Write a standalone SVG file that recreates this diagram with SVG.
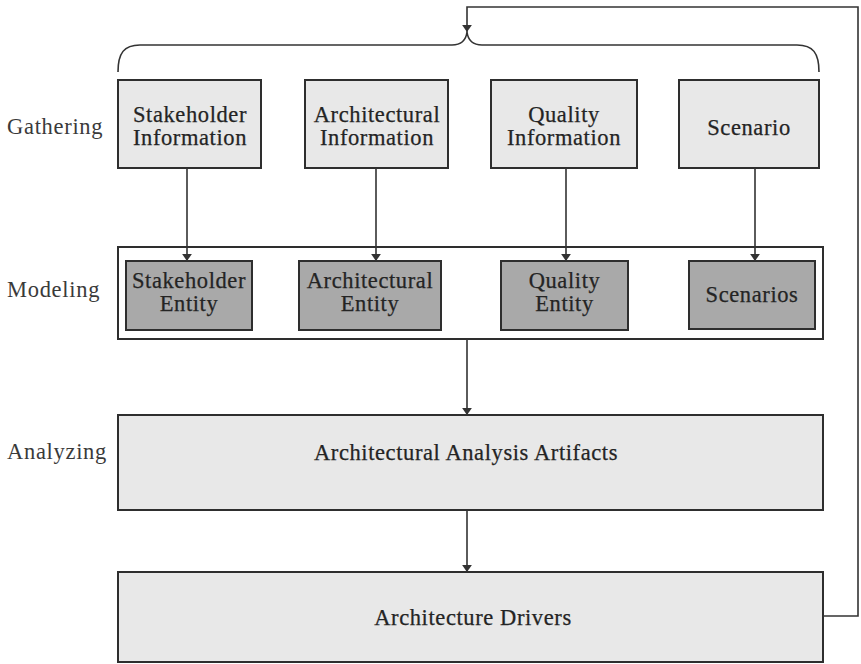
<svg xmlns="http://www.w3.org/2000/svg" width="861" height="664" viewBox="0 0 861 664">
  <style>
    .lbl { font-family: "Liberation Serif", "Times New Roman", serif; font-size: 22.5px; letter-spacing: 0.7px; fill: #3a3a3a; }
    .txt { font-family: "Liberation Serif", "Times New Roman", serif; font-size: 22.5px; letter-spacing: 0.6px; fill: #242424; text-anchor: middle; stroke: #242424; stroke-width: 0.25; }
    .light { fill: #e8e8e8; stroke: #2e2e2e; stroke-width: 2; }
    .dark { fill: #a9a9a9; stroke: #2e2e2e; stroke-width: 2; }
    .frame { fill: #fff; stroke: #2e2e2e; stroke-width: 2; }
    .wire { fill: none; stroke: #333; stroke-width: 1.6; }
  </style>
  <defs>
    <marker id="arrow" viewBox="0 0 10 14" refX="10" refY="7" markerWidth="7" markerHeight="12" markerUnits="userSpaceOnUse" orient="auto">
      <path d="M0,0 L10,7 L0,14 Z" fill="#333"/>
    </marker>
  </defs>
  <rect width="861" height="664" fill="#fff"/>

  <!-- stage labels -->
  <g id="stage-labels">
    <text class="lbl" x="7" y="134">Gathering</text>
    <text class="lbl" x="7" y="297">Modeling</text>
    <text class="lbl" x="7" y="459">Analyzing</text>
  </g>

  <!-- gathering stage -->
  <g id="stakeholder-information">
    <rect class="light" x="118" y="80" width="143" height="88"/>
    <text class="txt" x="190" y="122">Stakeholder</text>
    <text class="txt" x="190" y="145">Information</text>
  </g>
  <g id="architectural-information">
    <rect class="light" x="305" y="80" width="143" height="88"/>
    <text class="txt" x="377" y="122">Architectural</text>
    <text class="txt" x="377" y="145">Information</text>
  </g>
  <g id="quality-information">
    <rect class="light" x="491" y="80" width="146" height="88"/>
    <text class="txt" x="564" y="122">Quality</text>
    <text class="txt" x="564" y="145">Information</text>
  </g>
  <g id="scenario">
    <rect class="light" x="679" y="80" width="140" height="88"/>
    <text class="txt" x="749" y="135">Scenario</text>
  </g>

  <!-- modeling stage -->
  <g id="modeling">
    <rect class="frame" x="118" y="247" width="705" height="92"/>
  </g>
  <g id="stakeholder-entity">
    <rect class="dark" x="126" y="261" width="126" height="69"/>
    <text class="txt" x="189" y="288">Stakeholder</text>
    <text class="txt" x="189" y="311">Entity</text>
  </g>
  <g id="architectural-entity">
    <rect class="dark" x="299" y="261" width="142" height="69"/>
    <text class="txt" x="370" y="288">Architectural</text>
    <text class="txt" x="370" y="311">Entity</text>
  </g>
  <g id="quality-entity">
    <rect class="dark" x="501" y="261" width="127" height="69"/>
    <text class="txt" x="564.5" y="288">Quality</text>
    <text class="txt" x="564.5" y="311">Entity</text>
  </g>
  <g id="scenarios">
    <rect class="dark" x="689" y="261" width="126" height="68"/>
    <text class="txt" x="752" y="302">Scenarios</text>
  </g>

  <!-- analyzing stage -->
  <g id="analysis-artifacts">
    <rect class="light" x="118" y="415" width="705" height="95"/>
    <text class="txt" x="466" y="460">Architectural Analysis Artifacts</text>
  </g>

  <!-- drivers -->
  <g id="architecture-drivers">
    <rect class="light" x="118" y="572" width="705" height="90"/>
    <text class="txt" x="473" y="625">Architecture Drivers</text>
  </g>

  <!-- connectors -->
  <g id="connectors">
    <path class="wire" d="M118,72 C118,53 124,45 140,45 L452,45 C462,45 466,40 467,32 C468,40 472,45 482,45 L797,45 C813,45 819,53 819,72"/>
    <path class="wire" d="M823,616 L858,616 L858,7 L467,7 L467,32" marker-end="url(#arrow)"/>
    <line class="wire" x1="187" y1="168" x2="187" y2="261" marker-end="url(#arrow)"/>
    <line class="wire" x1="376" y1="168" x2="376" y2="261" marker-end="url(#arrow)"/>
    <line class="wire" x1="566" y1="168" x2="566" y2="261" marker-end="url(#arrow)"/>
    <line class="wire" x1="755" y1="168" x2="755" y2="261" marker-end="url(#arrow)"/>
    <line class="wire" x1="467" y1="339" x2="467" y2="415" marker-end="url(#arrow)"/>
    <line class="wire" x1="467" y1="510" x2="467" y2="572" marker-end="url(#arrow)"/>
  </g>
</svg>
